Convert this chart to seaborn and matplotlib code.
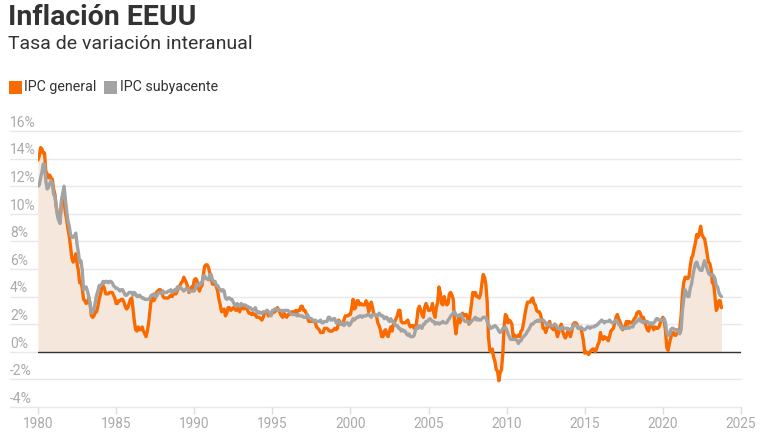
import numpy as np
import pandas as pd
import matplotlib
matplotlib.use("Agg")
import matplotlib.pyplot as plt
from matplotlib.patches import Rectangle
import seaborn as sns

# ---------------- data (monthly YoY %, Jan 1980 - Oct 2023) ----------------
start_year = 1980
ipc_general = [
    13.9, 14.2, 14.8, 14.7, 14.4, 14.4, 13.1, 12.9, 12.6, 12.8, 12.6, 12.5,  # 1980
    11.8, 11.4, 10.5, 10.0, 9.8, 9.6, 10.8, 10.8, 11.0, 10.1, 9.6, 8.9,      # 1981
    8.4, 7.6, 6.8, 6.5, 6.7, 7.1, 6.4, 5.9, 5.0, 5.1, 4.6, 3.8,              # 1982
    3.7, 3.5, 3.6, 3.9, 3.5, 2.6, 2.5, 2.6, 2.9, 2.9, 3.3, 3.8,              # 1983
    4.2, 4.6, 4.8, 4.6, 4.2, 4.2, 4.2, 4.3, 4.3, 4.3, 4.1, 3.9,              # 1984
    3.5, 3.5, 3.7, 3.7, 3.8, 3.8, 3.6, 3.3, 3.1, 3.2, 3.5, 3.8,              # 1985
    3.9, 3.1, 2.2, 1.6, 1.5, 1.8, 1.6, 1.6, 1.8, 1.5, 1.3, 1.1,              # 1986
    1.5, 2.1, 3.0, 3.8, 3.9, 3.7, 3.9, 4.3, 4.4, 4.5, 4.5, 4.4,              # 1987
    4.0, 3.9, 3.9, 3.9, 3.9, 4.0, 4.1, 4.0, 4.2, 4.2, 4.2, 4.4,              # 1988
    4.7, 4.8, 5.0, 5.1, 5.4, 5.2, 5.0, 4.7, 4.3, 4.5, 4.7, 4.6,              # 1989
    5.2, 5.3, 5.2, 4.7, 4.4, 4.7, 4.8, 5.6, 6.2, 6.3, 6.3, 6.1,              # 1990
    5.7, 5.3, 4.9, 4.9, 5.0, 4.7, 4.4, 3.8, 3.4, 2.9, 3.0, 3.1,              # 1991
    2.6, 2.8, 3.2, 3.2, 3.0, 3.1, 3.2, 3.1, 3.0, 3.2, 3.0, 2.9,              # 1992
    3.3, 3.2, 3.1, 3.2, 3.2, 3.0, 2.8, 2.8, 2.7, 2.8, 2.7, 2.7,              # 1993
    2.5, 2.5, 2.5, 2.4, 2.3, 2.5, 2.8, 2.9, 3.0, 2.6, 2.7, 2.7,              # 1994
    2.8, 2.9, 2.9, 3.1, 3.2, 3.0, 2.8, 2.6, 2.5, 2.8, 2.6, 2.5,              # 1995
    2.7, 2.7, 2.8, 2.9, 2.9, 2.8, 3.0, 2.9, 3.0, 3.0, 3.3, 3.3,              # 1996
    3.0, 3.0, 2.8, 2.5, 2.2, 2.3, 2.2, 2.2, 2.2, 2.1, 1.8, 1.7,              # 1997
    1.6, 1.4, 1.4, 1.4, 1.7, 1.7, 1.7, 1.6, 1.5, 1.5, 1.5, 1.6,              # 1998
    1.7, 1.6, 1.7, 2.3, 2.1, 2.0, 2.1, 2.3, 2.6, 2.6, 2.6, 2.7,              # 1999
    2.7, 3.2, 3.8, 3.1, 3.2, 3.7, 3.7, 3.4, 3.5, 3.4, 3.4, 3.4,              # 2000
    3.7, 3.5, 2.9, 3.3, 3.6, 3.2, 2.7, 2.7, 2.6, 2.1, 1.9, 1.6,              # 2001
    1.1, 1.1, 1.5, 1.6, 1.2, 1.1, 1.5, 1.8, 1.5, 2.0, 2.2, 2.4,              # 2002
    2.6, 3.0, 3.0, 2.2, 2.1, 2.1, 2.1, 2.2, 2.3, 2.0, 1.8, 1.9,              # 2003
    1.9, 1.7, 1.7, 2.3, 3.1, 3.3, 3.0, 2.7, 2.5, 3.2, 3.5, 3.3,              # 2004
    3.0, 3.0, 3.1, 3.5, 2.8, 2.5, 3.2, 3.6, 4.7, 4.3, 3.5, 3.4,              # 2005
    4.0, 3.6, 3.4, 3.5, 4.2, 4.3, 4.1, 3.8, 2.1, 1.3, 2.0, 2.5,              # 2006
    2.1, 2.4, 2.8, 2.6, 2.7, 2.7, 2.4, 2.0, 2.8, 3.5, 4.3, 4.1,              # 2007
    4.3, 4.0, 4.0, 3.9, 4.2, 5.0, 5.6, 5.4, 4.9, 3.7, 1.1, 0.1,              # 2008
    0.0, 0.2, -0.4, -0.7, -1.3, -1.4, -2.1, -1.5, -1.3, -0.2, 1.8, 2.7,      # 2009
    2.6, 2.1, 2.3, 2.2, 2.0, 1.1, 1.2, 1.1, 1.1, 1.2, 1.1, 1.5,              # 2010
    1.6, 2.1, 2.7, 3.2, 3.6, 3.6, 3.6, 3.8, 3.9, 3.5, 3.4, 3.0,              # 2011
    2.9, 2.9, 2.7, 2.3, 1.7, 1.7, 1.4, 1.7, 2.0, 2.2, 1.8, 1.7,              # 2012
    1.6, 2.0, 1.5, 1.1, 1.4, 1.8, 2.0, 1.5, 1.2, 1.0, 1.2, 1.5,              # 2013
    1.6, 1.1, 1.5, 2.0, 2.1, 2.1, 2.0, 1.7, 1.7, 1.7, 1.3, 0.8,              # 2014
    -0.1, 0.0, -0.1, -0.2, 0.0, 0.1, 0.2, 0.2, 0.0, 0.2, 0.5, 0.7,           # 2015
    1.4, 1.0, 0.9, 1.1, 1.0, 1.0, 0.8, 1.1, 1.5, 1.6, 1.7, 2.1,              # 2016
    2.5, 2.7, 2.4, 2.2, 1.9, 1.6, 1.7, 1.9, 2.2, 2.0, 2.2, 2.1,              # 2017
    2.1, 2.2, 2.4, 2.5, 2.8, 2.9, 2.9, 2.7, 2.3, 2.5, 2.2, 1.9,              # 2018
    1.6, 1.5, 1.9, 2.0, 1.8, 1.6, 1.8, 1.7, 1.7, 1.8, 2.1, 2.3,              # 2019
    2.5, 2.3, 1.5, 0.3, 0.1, 0.6, 1.0, 1.3, 1.4, 1.2, 1.2, 1.4,              # 2020
    1.4, 1.7, 2.6, 4.2, 5.0, 5.4, 5.4, 5.3, 5.4, 6.2, 6.8, 7.0,              # 2021
    7.5, 7.9, 8.5, 8.3, 8.6, 9.1, 8.5, 8.3, 8.2, 7.7, 7.1, 6.5,              # 2022
    6.4, 6.0, 5.0, 4.9, 4.0, 3.0, 3.2, 3.7, 3.7, 3.2,                        # 2023
]
ipc_subyacente = [
    12.0, 12.1, 12.6, 13.0, 13.6, 13.6, 12.4, 11.8, 11.9, 12.2, 12.4, 12.2,  # 1980
    11.4, 11.3, 10.6, 9.8, 9.5, 9.3, 11.0, 11.5, 12.0, 11.1, 10.2, 9.5,      # 1981
    9.1, 8.5, 8.3, 8.3, 8.4, 8.6, 7.8, 7.2, 6.5, 6.6, 5.9, 4.5,              # 1982
    4.6, 4.7, 4.4, 4.0, 3.5, 2.8, 2.9, 3.1, 3.6, 4.1, 4.4, 4.8,              # 1983
    4.8, 4.9, 5.1, 5.0, 5.1, 5.1, 5.0, 5.1, 5.1, 5.0, 4.8, 4.7,              # 1984
    4.6, 4.6, 4.5, 4.4, 4.5, 4.5, 4.3, 4.1, 4.1, 4.2, 4.3, 4.3,              # 1985
    4.3, 4.1, 4.3, 4.2, 4.0, 4.0, 4.1, 4.0, 3.9, 3.9, 3.8, 3.8,              # 1986
    3.8, 3.8, 3.9, 4.1, 4.1, 4.2, 4.0, 4.0, 4.2, 4.3, 4.3, 4.2,              # 1987
    4.4, 4.3, 4.3, 4.3, 4.4, 4.4, 4.5, 4.3, 4.4, 4.5, 4.4, 4.7,              # 1988
    4.6, 4.7, 4.6, 4.5, 4.4, 4.5, 4.6, 4.6, 4.4, 4.4, 4.4, 4.4,              # 1989
    4.4, 4.6, 4.9, 4.8, 4.8, 5.0, 5.0, 5.5, 5.5, 5.3, 5.3, 5.2,              # 1990
    5.6, 5.6, 5.2, 5.1, 5.1, 4.8, 4.8, 4.6, 4.5, 4.4, 4.5, 4.4,              # 1991
    3.9, 3.8, 3.9, 3.9, 3.8, 3.8, 3.6, 3.4, 3.3, 3.5, 3.4, 3.3,              # 1992
    3.5, 3.4, 3.4, 3.4, 3.3, 3.3, 3.2, 3.2, 3.1, 3.0, 3.1, 3.2,              # 1993
    2.9, 2.8, 2.9, 2.8, 2.8, 2.9, 2.9, 2.9, 3.0, 2.9, 2.8, 2.6,              # 1994
    3.0, 3.0, 3.1, 3.1, 3.1, 3.0, 3.0, 3.0, 2.9, 3.0, 3.0, 3.0,              # 1995
    3.0, 2.9, 2.8, 2.7, 2.7, 2.7, 2.7, 2.6, 2.7, 2.6, 2.6, 2.6,              # 1996
    2.5, 2.5, 2.5, 2.7, 2.5, 2.4, 2.4, 2.3, 2.2, 2.3, 2.2, 2.2,              # 1997
    2.2, 2.3, 2.1, 2.1, 2.2, 2.2, 2.2, 2.5, 2.5, 2.3, 2.3, 2.4,              # 1998
    2.4, 2.1, 2.1, 2.2, 2.0, 2.1, 2.1, 1.9, 2.0, 2.1, 2.1, 1.9,              # 1999
    2.0, 2.2, 2.4, 2.3, 2.4, 2.5, 2.5, 2.6, 2.6, 2.5, 2.6, 2.6,              # 2000
    2.6, 2.7, 2.7, 2.6, 2.5, 2.7, 2.7, 2.7, 2.6, 2.6, 2.8, 2.7,              # 2001
    2.6, 2.6, 2.4, 2.5, 2.5, 2.3, 2.2, 2.4, 2.2, 2.2, 2.0, 1.9,              # 2002
    1.9, 1.7, 1.7, 1.5, 1.6, 1.5, 1.5, 1.3, 1.2, 1.3, 1.1, 1.1,              # 2003
    1.1, 1.2, 1.6, 1.8, 1.7, 1.9, 1.8, 1.7, 2.0, 2.0, 2.2, 2.2,              # 2004
    2.3, 2.4, 2.3, 2.2, 2.2, 2.0, 2.1, 2.1, 2.0, 2.1, 2.1, 2.2,              # 2005
    2.1, 2.1, 2.1, 2.3, 2.4, 2.6, 2.7, 2.8, 2.9, 2.7, 2.6, 2.6,              # 2006
    2.7, 2.7, 2.5, 2.3, 2.2, 2.2, 2.2, 2.1, 2.1, 2.2, 2.3, 2.4,              # 2007
    2.5, 2.3, 2.4, 2.3, 2.3, 2.4, 2.5, 2.5, 2.5, 2.2, 2.0, 1.8,              # 2008
    1.7, 1.8, 1.8, 1.9, 1.8, 1.7, 1.5, 1.4, 1.5, 1.7, 1.7, 1.8,              # 2009
    1.6, 1.3, 1.1, 0.9, 0.9, 0.9, 0.9, 0.9, 0.8, 0.6, 0.8, 0.8,              # 2010
    1.0, 1.1, 1.2, 1.3, 1.5, 1.6, 1.8, 2.0, 2.0, 2.1, 2.2, 2.2,              # 2011
    2.3, 2.2, 2.3, 2.3, 2.3, 2.2, 2.1, 1.9, 2.0, 2.0, 1.9, 1.9,              # 2012
    1.9, 2.0, 1.9, 1.7, 1.7, 1.6, 1.7, 1.8, 1.7, 1.7, 1.7, 1.7,              # 2013
    1.6, 1.6, 1.7, 1.8, 2.0, 1.9, 1.9, 1.7, 1.7, 1.8, 1.7, 1.6,              # 2014
    1.6, 1.7, 1.8, 1.8, 1.7, 1.8, 1.8, 1.8, 1.9, 1.9, 2.0, 2.1,              # 2015
    2.2, 2.3, 2.2, 2.1, 2.2, 2.2, 2.2, 2.3, 2.2, 2.1, 2.1, 2.2,              # 2016
    2.3, 2.2, 2.0, 1.9, 1.7, 1.7, 1.7, 1.7, 1.7, 1.8, 1.7, 1.8,              # 2017
    1.8, 1.8, 2.1, 2.1, 2.2, 2.3, 2.4, 2.2, 2.2, 2.1, 2.2, 2.2,              # 2018
    2.2, 2.1, 2.0, 2.1, 2.0, 2.1, 2.2, 2.4, 2.4, 2.3, 2.3, 2.3,              # 2019
    2.3, 2.4, 2.1, 1.4, 1.2, 1.2, 1.6, 1.7, 1.7, 1.6, 1.6, 1.6,              # 2020
    1.4, 1.3, 1.6, 3.0, 3.8, 4.5, 4.3, 4.0, 4.0, 4.6, 4.9, 5.5,              # 2021
    6.0, 6.4, 6.5, 6.2, 6.0, 5.9, 5.9, 6.3, 6.6, 6.3, 6.0, 5.7,              # 2022
    5.6, 5.5, 5.6, 5.5, 5.3, 4.8, 4.7, 4.3, 4.1, 4.0,                        # 2023
]
series_names = ["IPC general", "IPC subyacente"]
year_ticks = list(range(1980, 2026, 5))
y_ticks = list(range(-4, 17, 2))

# ---------------- build frame ----------------
n = len(ipc_general)
fecha = start_year + np.arange(n) / 12.0
df = pd.DataFrame({"fecha": fecha,
                   series_names[0]: ipc_general,
                   series_names[1]: ipc_subyacente})
long = df.melt(id_vars="fecha", var_name="serie", value_name="valor")

# ---------------- style ----------------
sns.set_theme(style="white")
plt.rcParams["font.family"] = ["Roboto", "DejaVu Sans"]

ORANGE = "#f96b00"
GREY = "#a3a3a3"
PEACH = "#f6e7dd"
LGREY = "#f1f1f1"
palette = {series_names[0]: ORANGE, series_names[1]: GREY}

W, H = 770, 442
fig = plt.figure(figsize=(W / 100, H / 100), dpi=100)
x0, x1 = 38, 741
y_top, y_bot = 131, 407
ax = fig.add_axes([x0 / W, (H - y_bot) / H, (x1 - x0) / W, (y_bot - y_top) / H])

# area fills
ax.fill_between(df["fecha"], 0, df[series_names[1]], color=LGREY, lw=0, zorder=1)
ax.fill_between(df["fecha"], 0, df[series_names[0]], color=PEACH, lw=0, zorder=1.5)

# lines
sns.lineplot(data=long, x="fecha", y="valor", hue="serie", palette=palette,
             hue_order=series_names, linewidth=2.4, ax=ax, legend=False,
             zorder=3)

ax.set_xlim(1980, 2025)
ax.set_ylim(-4, 16)
for s in ax.spines.values():
    s.set_visible(False)

# gridlines extending under the labels
gl_left = (10 - x0) / (x1 - x0)
for y in y_ticks:
    ax.plot([gl_left, 1.0], [y, y], transform=ax.get_yaxis_transform(),
            color="#e8e8e8", lw=1, clip_on=False, zorder=0)
    ax.text(gl_left, y + 0.08, f"{y}%", transform=ax.get_yaxis_transform(),
            ha="left", va="bottom", fontsize=10, color="#aaaaaa", zorder=4)
ax.plot([0, 1], [0, 0], transform=ax.get_yaxis_transform(),
        color="#333333", lw=1, zorder=2.5)

ax.set_yticks([])
ax.set_xticks(year_ticks)
ax.set_xticklabels([str(t) for t in year_ticks])
ax.tick_params(axis="x", length=5, width=1, color="#dddddd", labelcolor="#aaaaaa",
               labelsize=9.8, pad=2, bottom=True)
ax.set_xlabel("")
ax.set_ylabel("")

# title & subtitle
fig.text(8 / W, 1 - 4 / H, "Inflación EEUU", ha="left", va="top",
         fontsize=20.5, fontweight="bold", color="#333333")
fig.text(8 / W, 1 - 35 / H, "Tasa de variación interanual", ha="left", va="top",
         fontsize=14, color="#333333")

# legend
leg_y = 87
for (lx, tx, name, col) in [(9, 24, series_names[0], ORANGE),
                            (104, 120, series_names[1], GREY)]:
    fig.patches.append(Rectangle((lx / W, (H - leg_y - 6.5) / H), 13 / W, 13 / H,
                                 transform=fig.transFigure, color=col, lw=0))
    fig.text(tx / W, (H - leg_y) / H, name, ha="left", va="center",
             fontsize=10.3, color="#333333")

fig.savefig("out.png", dpi=100)
